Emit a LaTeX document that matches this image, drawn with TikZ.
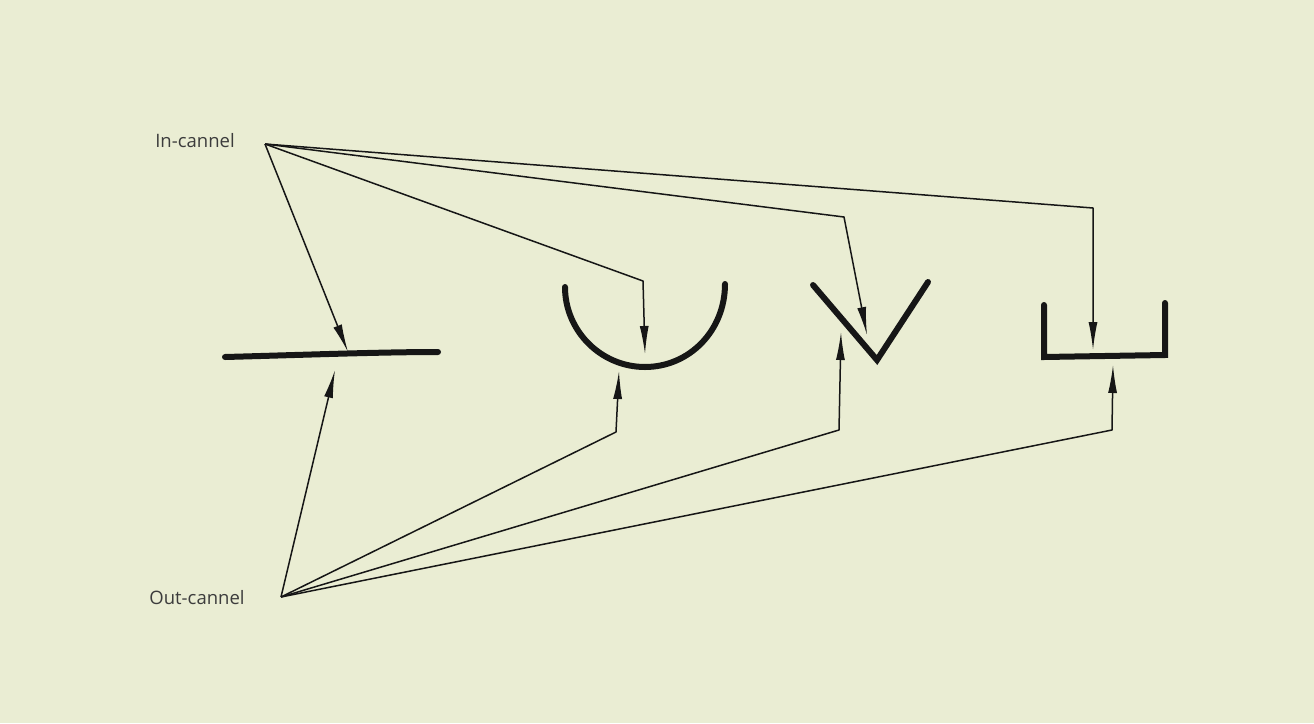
\documentclass[tikz,border=0pt]{standalone}
\usepackage{fontspec}
\setmainfont{Open Sans}
\usetikzlibrary{arrows.meta}
\definecolor{bg}{RGB}{234,237,211}
\definecolor{ink}{RGB}{22,22,22}
\definecolor{txt}{RGB}{60,60,60}
\tikzset{
  arr/.style={draw=ink, line width=1.5pt, line join=round,
    -{Latex[length=28pt, width=9pt]}},
  shapeline/.style={draw=ink, line width=6pt, line cap=round, line join=miter},
  lab/.style={text=txt, font=\fontsize{18.5}{21}\selectfont, inner sep=0pt}
}
\begin{document}
\begin{tikzpicture}[x=1pt, y=-1pt]
\fill[bg] (0,0) rectangle (1314,723);
\useasboundingbox (0,0) rectangle (1314,723);

% labels and source points
\node[lab] (inlab) at (195,141) {In-cannel};
\node[lab] (outlab) at (197,598) {Out-cannel};
\coordinate (inpt) at (265,144);
\coordinate (outpt) at (281,597);

% shapes
\draw[shapeline] (225,357) .. controls (300,355) and (380,352) .. (438,352);
\draw[shapeline] (565,287) .. controls (565,331) and (601,367) .. (645,367)
                 .. controls (689,367) and (725,331) .. (725,284);
\draw[shapeline] (813,285) -- (877,360) -- (928,282);
\draw[shapeline] (1044,305) -- (1044,357) -- (1165,355) -- (1165,303);

% in-cannel targets
\coordinate (t1) at (348,352);
\coordinate (b2) at (643,281);
\coordinate (t2) at (645,354);
\coordinate (b3) at (844,217);
\coordinate (t3) at (867,335);
\coordinate (b4) at (1093,208);
\coordinate (t4) at (1093,350);

% out-cannel targets
\coordinate (u1) at (335,370);
\coordinate (c2) at (616,432);
\coordinate (u2) at (619,371);
\coordinate (c3) at (839,430);
\coordinate (u3) at (841,332);
\coordinate (c4) at (1112,430);
\coordinate (u4) at (1113,365);

\draw[arr] (inpt) -- (t1);
\draw[arr] (inpt) -- (b2) -- (t2);
\draw[arr] (inpt) -- (b3) -- (t3);
\draw[arr] (inpt) -- (b4) -- (t4);

\draw[arr] (outpt) -- (u1);
\draw[arr] (outpt) -- (c2) -- (u2);
\draw[arr] (outpt) -- (c3) -- (u3);
\draw[arr] (outpt) -- (c4) -- (u4);
\end{tikzpicture}
\end{document}
